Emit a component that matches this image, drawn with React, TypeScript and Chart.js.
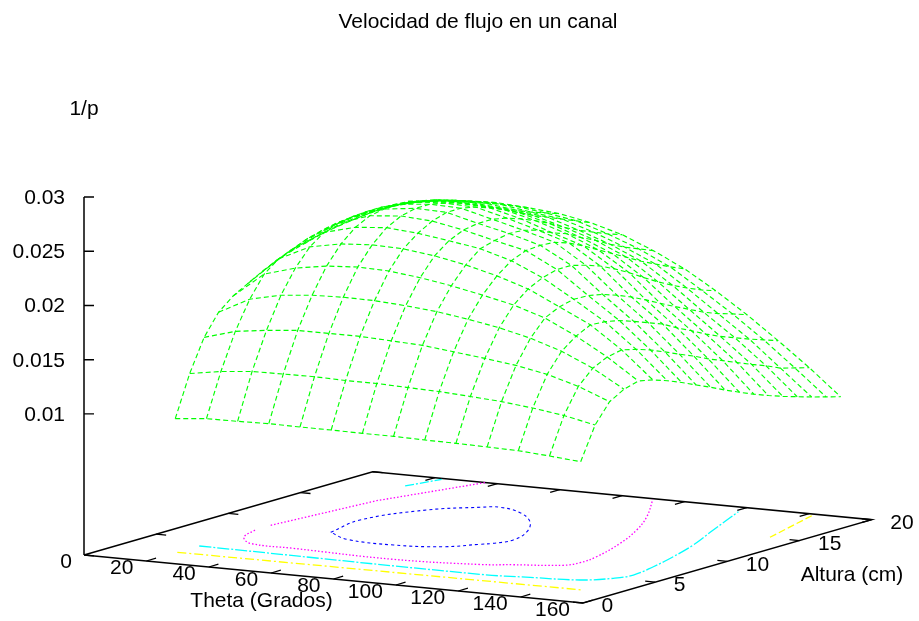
import React, { useEffect, useRef } from "react";
import { Chart, registerables } from "chart.js";

Chart.register(...registerables);

// ---- Data ----
const titleText = "Velocidad de flujo en un canal";
const zLabel = "1/p";
const thetaLabel = "Theta (Grados)";
const alturaLabel = "Altura (cm)";

const alturas = [2, 3, 4, 5, 6, 7, 8, 9, 10, 11, 12, 13, 14, 15, 16, 17, 18, 19, 20];
const thetas = [20, 30, 40, 50, 60, 70, 80, 90, 100, 110, 120, 130, 140, 150];

const thetaTicks = [20, 40, 60, 80, 100, 120, 140, 160];
const alturaTicks = [0, 5, 10, 15, 20];
const zTicks = [0.01, 0.015, 0.02, 0.025, 0.03];
const zTickLabels = ["0.01", "0.015", "0.02", "0.025", "0.03"];

// 1/p at each altura, one list per theta
const z20 = [.00935, .01313, .01608, .01801, .01912, .01986, .02059, .02124, .0217, .02207, .02244, .02271, .0229, .02308, .02318, .02318, .02308, .0229, .02262];
const z30 = [.00963, .01359, .01691, .01949, .02142, .02244, .02299, .02354, .02391, .02419, .02428, .02437, .02437, .02437, .02428, .02391, .02364, .02322, .02281];
const z40 = [.00966, .01387, .01728, .02013, .02225, .02382, .02478, .02525, .02548, .02557, .02557, .02539, .0252, .02493, .02465, .02428, .02382, .02336, .0229];
const z50 = [.00972, .01391, .01755, .02041, .02271, .02437, .02552, .0262, .02644, .02649, .02635, .02603, .02566, .0252, .02474, .02428, .02382, .02327, .02271];
const z60 = [.00969, .01394, .01755, .0205, .0229, .02456, .02576, .02645, .02677, .02677, .02649, .02612, .02557, .02502, .02447, .02391, .02336, .0229, .02244];
const z70 = [.00969, .01387, .01755, .02046, .02281, .02447, .02552, .02626, .02668, .02668, .0264, .02594, .02539, .02474, .0241, .02354, .02299, .02244, .02188];
const z80 = [.00966, .01387, .01742, .02027, .02247, .0241, .02511, .02571, .02594, .02594, .02566, .0252, .02465, .024, .02327, .02262, .02207, .02152, .02106];
const z90 = [.00966, .01377, .01728, .02, .022, .02354, .02465, .02502, .02529, .0252, .02483, .02419, .02373, .02299, .02235, .02161, .02096, .02041, .01986];
const z100 = [.0096, .01368, .01696, .01958, .02142, .02281, .02382, .02437, .02447, .02437, .02391, .02327, .02253, .02179, .02106, .02032, .01967, .01903, .01847];
const z110 = [.00957, .0135, .01663, .01907, .02078, .02188, .02253, .0229, .0229, .02253, .02207, .02142, .02069, .01986, .01907, .01838, .01774, .01718, .01672];
const z120 = [.00951, .01331, .01626, .01838, .01986, .0205, .02082, .02078, .0205, .02004, .01949, .01884, .01814, .01746, .01682, .01617, .01566, .01525, .01479];
const z130 = [.00944, .01299, .01571, .01746, .01847, .01912, .01903, .01875, .01829, .01778, .01728, .01654, .01589, .0152, .0146, .0141, .01359, .01313, .01267];
const z140 = [.00923, .01258, .01488, .01617, .01682, .01709, .01676, .01631, .01575, .01516, .0146, .01396, .01341, .01285, .0123, .01179, .01119, .01082, .01046];
const z150 = [.00898, .01198, .01374, .01451, .01488, .0146, .01414, .01359, .01298, .01239, .01175, .01116, .01059, .01009, .00963, .00921, .0088, .00843, .00806];
const surfaceByTheta = [z20, z30, z40, z50, z60, z70, z80, z90, z100, z110, z120, z130, z140, z150];

// contour lines on the base: theta and altura lists
const blueTheta = [40.4, 37.2, 44.9, 55.5, 60.3, 69.6, 79.5, 87.1, 90.7, 88.7, 86.3, 79.5, 66.1, 50.1, 40.4];
const blueAltura = [8.36, 11.08, 14.04, 15.45, 15.8, 15.17, 13.72, 11.87, 10.14, 9.2, 8.79, 7.71, 7.16, 7.38, 8.36];

const magentaUpperTheta = [20.15, 25.1, 36.1];
const magentaUpperAltura = [8.58, 14.85, 19.99];
const magentaTheta = [20.3, 23.7, 30.2, 44.7, 78, 103.1, 111.3, 123.8, 125.7, 124.7, 119.2, 112.1, 103.4, 90.4];
const magentaAltura = [7.46, 5.96, 4.98, 4.83, 4.58, 5.15, 5.68, 6.45, 7.2, 8.57, 11.39, 14.07, 16.65, 19.88];

const cyanTheta = [20.2, 111.3, 125.9, 140.1, 146.7, 148.8, 146.7, 143.1, 138.2, 130.5, 121.3];
const cyanAltura = [3.62, 3.38, 3.7, 4.09, 4.97, 5.91, 7.75, 9.9, 12.35, 15.4, 19.13];
const cyanBackTheta = [19.7, 22.9];
const cyanBackAltura = [17.99, 19.83];

const yellowTheta = [20.2, 149.2];
const yellowAltura = [2.1, 2.34];
const yellowBackTheta = [150.2, 142];
const yellowBackAltura = [15.07, 19.83];

// ---- View of the 3D box, as gnuplot's "set view" would place it ----
const THETA_MAX = 160;
const ALTURA_MAX = 20;
const Z_BASE = -0.003;
const Z_TOP = 0.03;
const origin = { x: 84, y: 555 };
const thetaVec = { x: 499, y: 48 };
const alturaVec = { x: 288.7, y: -83.3 };
const zTopY = 197;

function project(theta: number, altura: number, z: number = Z_BASE) {
  const a = theta / THETA_MAX;
  const b = altura / ALTURA_MAX;
  const c = (z - Z_BASE) / (Z_TOP - Z_BASE);
  return {
    x: origin.x + a * thetaVec.x + b * alturaVec.x,
    y: origin.y + a * thetaVec.y + b * alturaVec.y - c * (origin.y - zTopY),
  };
}

const BREAK = { x: NaN, y: NaN };
const FONT = '"Liberation Sans", Arial, sans-serif';
const FONT_SIZE = 21;

function line(data: any[], color: string, dash: number[], width = 1, tension = 0) {
  return {
    data,
    borderColor: color,
    backgroundColor: color,
    borderWidth: width,
    borderDash: dash,
    pointRadius: 0,
    showLine: true,
    tension,
    spanGaps: false,
  };
}

function contour(ths: number[], hs: number[], color: string, dash: number[], tension = 0.4, width = 1.3) {
  return line(ths.map((t, i) => project(t, hs[i])), color, dash, width, tension);
}

const GREEN = "#00ff00";
const SURFACE_DASH = [5, 3];

function buildDatasets() {
  const sets: any[] = [];
  surfaceByTheta.forEach((col, i) => {
    sets.push(line(col.map((z, j) => project(thetas[i], alturas[j], z)), GREEN, SURFACE_DASH, 1.15));
  });
  alturas.forEach((h, j) => {
    sets.push(line(surfaceByTheta.map((col, i) => project(thetas[i], h, col[j])), GREEN, SURFACE_DASH, 1.15));
  });
  sets.push(contour(blueTheta, blueAltura, "#0000ff", [3, 3], 0.4, 1.1));
  sets.push(contour(magentaUpperTheta, magentaUpperAltura, "#ff00ff", [1.5, 2], 0));
  sets.push(contour(magentaTheta, magentaAltura, "#ff00ff", [1.5, 2]));
  sets.push(contour(cyanTheta, cyanAltura, "#00ffff", [12, 2, 2, 2]));
  sets.push(contour(cyanBackTheta, cyanBackAltura, "#00ffff", [9, 2, 2, 2], 0));
  sets.push(contour(yellowTheta, yellowAltura, "#ffff00", [9, 3, 2, 3], 0));
  sets.push(contour(yellowBackTheta, yellowBackAltura, "#ffff00", [7, 3], 0));

  // box
  const frame = [
    project(0, 0),
    project(THETA_MAX, 0),
    project(THETA_MAX, ALTURA_MAX),
    project(0, ALTURA_MAX),
    project(0, 0),
    BREAK,
    project(0, 0),
    project(0, 0, Z_TOP),
  ];
  const ticks: any[] = [];
  thetaTicks.forEach((t) => {
    ticks.push(project(t, 0), project(t, 0.67), BREAK);
    ticks.push(project(t, ALTURA_MAX), project(t, ALTURA_MAX - 0.67), BREAK);
  });
  alturaTicks.forEach((h) => {
    ticks.push(project(THETA_MAX, h), project(THETA_MAX - 3.2, h), BREAK);
    ticks.push(project(0, h), project(3.2, h), BREAK);
  });
  ticks.pop();
  zTicks.forEach((z) => {
    const p = project(0, 0, z);
    ticks.push(BREAK, p, { x: p.x + 10, y: p.y });
  });
  sets.push(line(frame, "#000000", [], 1.5));
  sets.push(line(ticks, "#000000", [], 1.3));
  return sets;
}

const textPlugin = {
  id: "gnuplotText",
  afterDraw(chart: any) {
    const { ctx, scales } = chart;
    const put = (text: string, x: number, y: number, align: CanvasTextAlign) => {
      ctx.textAlign = align;
      ctx.fillText(text, scales.x.getPixelForValue(x), scales.y.getPixelForValue(y) + 1);
    };
    ctx.save();
    ctx.fillStyle = "#000000";
    ctx.textBaseline = "middle";
    ctx.font = `${FONT_SIZE}px ${FONT}`;
    put(titleText, 478, 21, "center");
    put(zLabel, 84, 108, "center");
    put(thetaLabel, 261.5, 600, "center");
    put(alturaLabel, 852, 574, "center");
    zTicks.forEach((z, i) => {
      const p = project(0, 0, z);
      put(zTickLabels[i], p.x - 19, p.y, "right");
    });
    put("0", origin.x - 12, origin.y + 6, "right");
    thetaTicks.forEach((t) => {
      const p = project(t, 0);
      put(String(t), p.x - 13, p.y + 6.5, "right");
    });
    alturaTicks.forEach((h) => {
      const p = project(THETA_MAX, h);
      put(String(h), p.x + 18.5, p.y + 2.5, "left");
    });
    ctx.restore();
  },
};

export default function App() {
  const ref = useRef<HTMLCanvasElement | null>(null);
  useEffect(() => {
    if (!ref.current) return;
    const chart = new Chart(ref.current, {
      type: "scatter",
      data: { datasets: buildDatasets() },
      options: {
        animation: false,
        responsive: false,
        devicePixelRatio: 1,
        layout: { padding: 0 },
        plugins: { legend: { display: false }, tooltip: { enabled: false }, title: { display: false } },
        scales: {
          x: { type: "linear", display: false, min: 0, max: 919 },
          y: { type: "linear", display: false, min: 0, max: 621, reverse: true },
        },
      },
      plugins: [textPlugin],
    } as any);
    return () => chart.destroy();
  }, []);
  return (
    <canvas
      ref={ref}
      width={919}
      height={621}
      style={{ position: "absolute", left: 0, top: 0, width: 919, height: 621, background: "#ffffff" }}
    />
  );
}
